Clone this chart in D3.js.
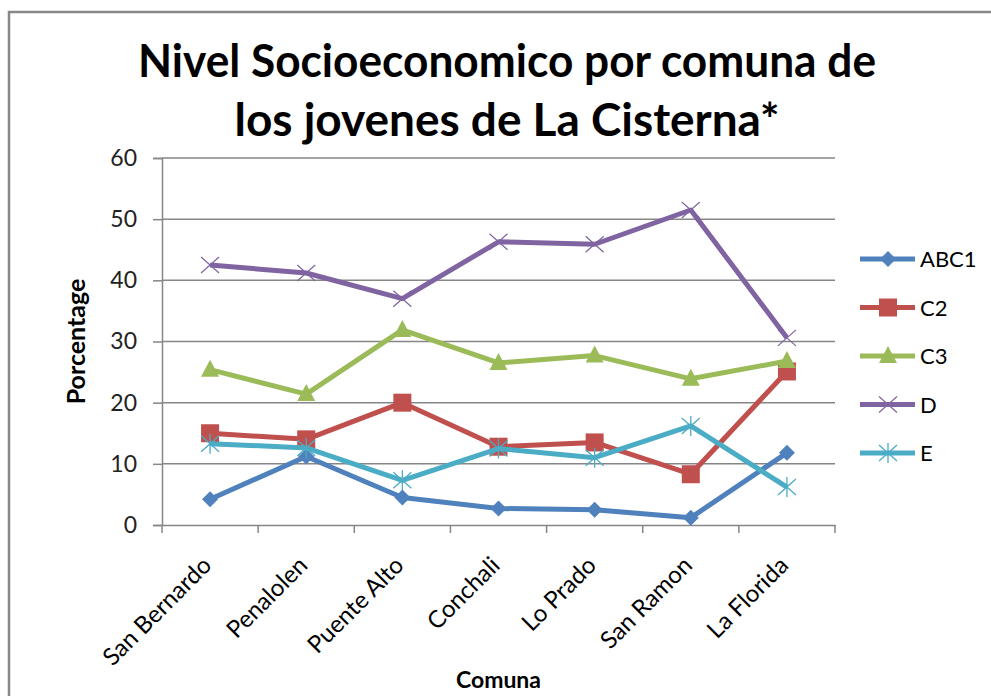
<!DOCTYPE html>
<html><head><meta charset="utf-8">
<script src="https://cdn.jsdelivr.net/npm/d3@7"></script>
<style>
html,body{margin:0;padding:0;background:#fff;}
svg{display:block;}
text{font-family:Lato,"Open Sans",sans-serif;}
</style></head>
<body>
<svg id="c" width="991" height="696"></svg>
<script>
const categories = ["San Bernardo","Penalolen","Puente Alto","Conchali","Lo Prado","San Ramon","La Florida"];
const seriesNames = ["ABC1","C2","C3","D","E"];
const abc1 = [4.2, 11.2, 4.5, 2.7, 2.5, 1.2, 11.8];
const c2   = [15.0, 14.0, 20.0, 12.8, 13.5, 8.3, 25.1];
const c3   = [25.4, 21.4, 31.9, 26.5, 27.7, 23.9, 26.8];
const dS   = [42.5, 41.2, 37.0, 46.3, 45.9, 51.5, 30.6];
const eS   = [13.3, 12.6, 7.3, 12.5, 11.0, 16.2, 6.2];
const yTicks = [0,10,20,30,40,50,60];
const titleLines = ["Nivel Socioeconomico por comuna de","los jovenes de La Cisterna*"];
const xTitle = "Comuna", yTitle = "Porcentage";

const values = [abc1, c2, c3, dS, eS];
const colors = ["#4F81BD","#C0504D","#9BBB59","#8064A2","#4BACC6"];
const markers = ["diamond","square","triangle","x","star"];

const svg = d3.select("#c");
svg.append("rect").attr("x",0).attr("y",0).attr("width",991).attr("height",696).attr("fill","#fff");
// chart frame
svg.append("rect").attr("x",9).attr("y",12).attr("width",1100).attr("height",800)
  .attr("fill","#fff").attr("stroke","#888").attr("stroke-width",2.5);

const L=162, R=835, T=158, B=525;
const x = d3.scaleBand().domain(categories).range([L,R]);
const y = d3.scaleLinear().domain([0,60]).range([B,T]);

// title
const tw = [738, 545];
titleLines.forEach((t,i)=>{
  svg.append("text").attr("x",507).attr("y",[77,136][i]).attr("text-anchor","middle")
    .attr("font-size",46).attr("font-weight","bold").attr("fill","#000")
    .attr("textLength",tw[i]).attr("lengthAdjust","spacingAndGlyphs").text(t);
});

// gridlines
svg.append("g").selectAll("line").data(yTicks.filter(d=>d>0)).join("line")
  .attr("x1",L).attr("x2",R).attr("y1",d=>y(d)).attr("y2",d=>y(d))
  .attr("stroke","#868686").attr("stroke-width",1.5);

// y axis
const ya = svg.append("g").attr("transform",`translate(${L},0)`)
  .call(d3.axisLeft(y).tickValues(yTicks).tickSize(9).tickPadding(16));
ya.select(".domain").attr("stroke","#868686").attr("stroke-width",1.5);
ya.selectAll(".tick line").attr("stroke","#868686").attr("stroke-width",1.5);
ya.selectAll("text").attr("font-size",23).attr("fill","#222").attr("font-family","Lato, sans-serif");

// x axis
const xa = svg.append("g").attr("transform",`translate(0,${B})`)
  .call(d3.axisBottom(x).tickSize(0).tickFormat(""));
xa.select(".domain").attr("stroke","#868686").attr("stroke-width",1.5);
const bounds = categories.map(c=>x(c)).concat([R]);
svg.append("g").selectAll("line").data(bounds).join("line")
  .attr("x1",d=>d).attr("x2",d=>d).attr("y1",B).attr("y2",B+8)
  .attr("stroke","#868686").attr("stroke-width",1.5);
svg.append("g").selectAll("text").data(categories).join("text")
  .attr("transform",d=>`translate(${x(d)+x.bandwidth()/2-9},${B+30}) rotate(-45)`)
  .attr("text-anchor","end").attr("dy","0.7em")
  .attr("font-size",24).attr("fill","#000").text(d=>d);

// axis titles
svg.append("text").attr("transform",`translate(85,${(T+B)/2}) rotate(-90)`)
  .attr("text-anchor","middle").attr("font-size",25).attr("font-weight","bold").text(yTitle);
svg.append("text").attr("x",(L+R)/2).attr("y",688).attr("text-anchor","middle")
  .attr("font-size",23).attr("font-weight","bold").text(xTitle);

function drawMarker(g, type, cx, cy, color){
  if(type==="diamond"){
    g.append("path").attr("d",`M${cx},${cy-8}L${cx+8},${cy}L${cx},${cy+8}L${cx-8},${cy}Z`).attr("fill",color);
  } else if(type==="square"){
    g.append("rect").attr("x",cx-9).attr("y",cy-9).attr("width",18).attr("height",18).attr("fill",color);
  } else if(type==="triangle"){
    g.append("path").attr("d",`M${cx},${cy-10}L${cx+9},${cy+7}L${cx-9},${cy+7}Z`).attr("fill",color);
  } else if(type==="x"){
    g.append("path").attr("d",`M${cx-9},${cy-8}L${cx+9},${cy+8}M${cx-9},${cy+8}L${cx+9},${cy-8}`)
      .attr("stroke",color).attr("stroke-width",1.2).attr("fill","none");
  } else if(type==="star"){
    g.append("path").attr("d",`M${cx-9},${cy-8}L${cx+9},${cy+8}M${cx-9},${cy+8}L${cx+9},${cy-8}M${cx},${cy-10}L${cx},${cy+10}`)
      .attr("stroke",color).attr("stroke-width",1.3).attr("fill","none");
  }
}

const line = d3.line().x((d,i)=>x(categories[i])+x.bandwidth()/2).y(d=>y(d));
values.forEach((vals,si)=>{
  const g = svg.append("g");
  g.append("path").datum(vals).attr("d",line).attr("fill","none")
    .attr("stroke",colors[si]).attr("stroke-width",5).attr("stroke-linejoin","round");
  vals.forEach((v,i)=>drawMarker(g, markers[si], x(categories[i])+x.bandwidth()/2, y(v), colors[si]));
});

// legend
seriesNames.forEach((n,i)=>{
  const ly = 259 + i*48.5;
  const g = svg.append("g");
  g.append("line").attr("x1",860).attr("x2",915).attr("y1",ly).attr("y2",ly)
    .attr("stroke",colors[i]).attr("stroke-width",5);
  drawMarker(g, markers[i], 888, ly, colors[i]);
  g.append("text").attr("x",920).attr("y",ly+8).attr("font-size",22).attr("fill","#000").text(n);
});
</script>
</body></html>
